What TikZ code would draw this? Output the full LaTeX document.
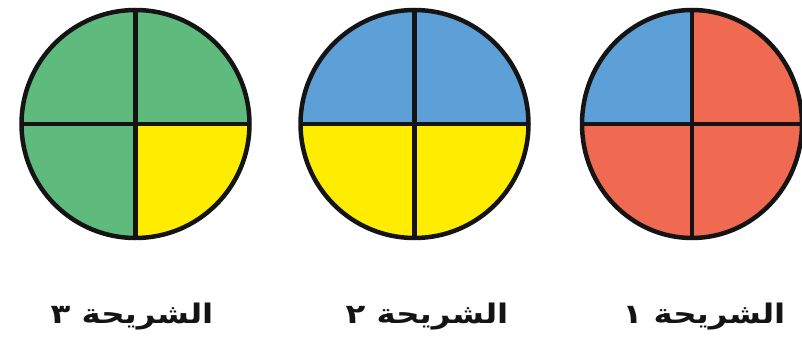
\documentclass[tikz,border=0pt]{standalone}
\usepackage{fontspec}
\newfontfamily\arabicfont[Script=Arabic]{DejaVu Sans}
\TeXXeTstate=1
\definecolor{pgreen}{RGB}{95,186,125}
\definecolor{pyellow}{RGB}{255,237,0}
\definecolor{pblue}{RGB}{93,160,216}
\definecolor{pred}{RGB}{240,106,82}
\definecolor{pline}{RGB}{20,20,20}
\newcommand\quadpie[8]{%
  \fill[#5] (#1,#2) -- ++(#3,0) arc[start angle=0,end angle=90,x radius=#3,y radius=#4] -- cycle;
  \fill[#6] (#1,#2) -- ++(0,#4) arc[start angle=90,end angle=180,x radius=#3,y radius=#4] -- cycle;
  \fill[#7] (#1,#2) -- ++(-#3,0) arc[start angle=180,end angle=270,x radius=#3,y radius=#4] -- cycle;
  \fill[#8] (#1,#2) -- ++(0,-#4) arc[start angle=270,end angle=360,x radius=#3,y radius=#4] -- cycle;
  \draw[outline] (#1,#2) ellipse[x radius=#3,y radius=#4];
  \draw[outline] (#1-#3,#2) -- (#1+#3,#2);
  \draw[outline] (#1,#2-#4) -- (#1,#2+#4);
}
\begin{document}
\begin{tikzpicture}[x=1pt,y=1pt,
  outline/.style={draw=pline,line width=4.5pt},
  lbl/.style={font=\arabicfont\bfseries\fontsize{27}{30}\selectfont,anchor=base,inner sep=0pt,text=pline,xscale=1.2}]
\useasboundingbox (0,0) rectangle (802,343);
\fill[white] (0,0) rectangle (802,343);
\clip (0,0) rectangle (802,343);
\quadpie{135.5}{219}{114}{114}{pgreen}{pgreen}{pgreen}{pyellow}
\quadpie{414.5}{219}{114}{114}{pblue}{pblue}{pyellow}{pyellow}
\quadpie{692}{219}{110}{114}{pred}{pblue}{pred}{pred}
\node[lbl] (l3) at (132,20) {\beginR الشريحة ٣\endR};
\node[lbl] (l2) at (427,20) {\beginR الشريحة ٢\endR};
\node[lbl] (l1) at (704,20) {\beginR الشريحة ١\endR};
\end{tikzpicture}
\end{document}
